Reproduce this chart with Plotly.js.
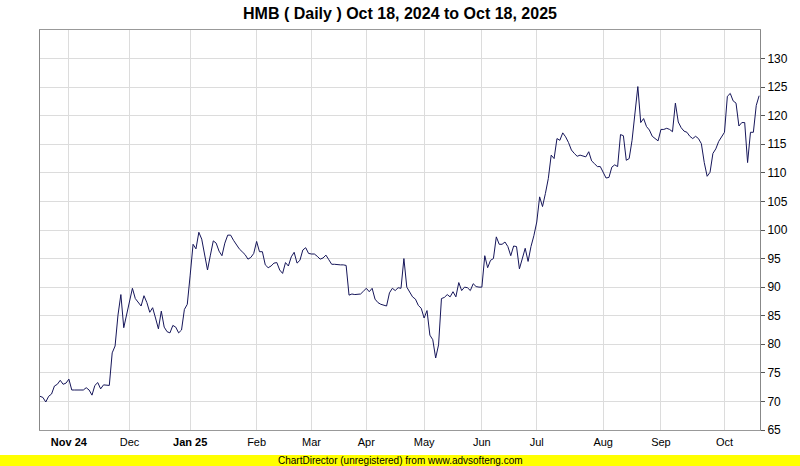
<!DOCTYPE html>
<html>
<head>
<meta charset="utf-8">
<script src="https://cdn.plot.ly/plotly-3.0.1.min.js"></script>
<style>
  html, body { margin: 0; padding: 0; background: #ffffff; }
  #chart { width: 800px; height: 466px; }
</style>
</head>
<body>
<div id="chart"></div>
<script>
// Daily closing prices (trading days)
var closeOctToJan = [70.9,70.7,69.9,70.9,71.3,72.7,73.0,73.7,73.0,73.2,73.9,72.0,72.0,72.0,72.0,72.0,72.4,72.0,71.1,72.8,73.3,72.2,72.9,72.9,72.8,78.5,79.7,85.1,88.7,82.9,85.4,87.7,89.8,88.0,87.3,86.7,88.5,87.3,85.6,86.4,84.6,82.7,85.8,83.0,82.2,82.0,83.3,83.0,82.0,82.5,86.1,87.0,92.1,97.5,96.7,99.6,98.4,95.9,93.0,95.6,98.1,97.7,96.3];
var closeJanToApr = [95.5,97.7,99.1,99.1,98.2,97.4,96.7,96.2,95.7,94.9,95.2,95.9,98.0,96.2,96.2,93.9,93.4,93.7,94.2,94.3,93.0,92.4,94.3,93.7,95.3,96.1,94.2,94.7,96.5,96.9,95.9,95.8,95.8,95.4,94.9,95.1,95.6,94.8,94.0,94.0,93.9,93.9,93.9,93.8,88.6,88.8,88.7,88.8,88.8,89.3,89.8,89.2,89.8,87.9,87.3,87.0,86.8,86.7,89.0,89.8,89.4,89.9];
var closeAprToJul = [89.8,95.0,90.0,89.2,88.3,87.9,86.8,86.3,84.6,85.9,81.6,80.8,77.6,79.9,88.0,88.2,88.7,88.3,89.2,88.3,90.8,89.4,90.0,89.9,89.4,90.6,90.1,90.0,90.0,95.5,93.4,94.7,95.0,98.8,97.5,97.5,97.9,97.1,95.5,97.2,97.1,93.2,94.9,96.8,94.5,97.1,99.0,101.4,105.8,104.1,106.4,109.0,113.1,112.5,116.0,115.7,117.0,116.3,115.3,114.0,113.4];
var closeJulToOct = [112.9,113.1,113.0,112.8,113.7,112.1,111.6,111.1,111.1,110.2,109.1,109.2,111.0,111.4,111.1,116.7,116.5,112.2,112.5,115.7,120.1,125.1,118.8,119.5,118.1,117.5,116.4,116.0,115.6,117.6,117.6,117.8,117.6,117.2,122.2,118.9,117.9,117.3,117.1,116.4,116.0,116.4,116.0,115.1,111.8,109.4,110.1,113.4,114.2,115.5,116.3,117.1,123.4,123.9,122.6,122.2,118.2,118.8,118.8,111.8,117.1,117.1,121.8,123.5];

// Month labels and the trading-day index where each month starts
var monthLabels = ["<b>Nov 24</b>","Dec","<b>Jan 25</b>","Feb","Mar","Apr","May","Jun","Jul","Aug","Sep","Oct"];
var monthStartIdx = [10,31,52,75,94,113,133,153,172,195,215,237];

var yTicks = [65,70,75,80,85,90,95,100,105,110,115,120,125,130];

var closes = closeOctToJan.concat(closeJanToApr, closeAprToJul, closeJulToOct);
var dayIdx = closes.map(function(_, i){ return i; });

var FONT = '"Liberation Sans Narrow", "Liberation Sans", Arial, sans-serif';

var trace = {
  x: dayIdx,
  y: closes,
  type: 'scatter',
  mode: 'lines',
  line: { color: '#16165a', width: 1 },
  hoverinfo: 'skip'
};

var layout = {
  width: 800,
  height: 466,
  margin: { l: 40, r: 40, t: 30, b: 36, pad: 0 },
  paper_bgcolor: '#ffffff',
  plot_bgcolor: '#ffffff',
  showlegend: false,
  title: {
    text: '<b>HMB ( Daily ) Oct 18, 2024 to Oct 18, 2025</b>',
    font: { family: FONT, size: 16, color: '#000000' },
    x: 0.5, xanchor: 'center',
    y: 1 - 13/466, yanchor: 'middle', yref: 'container'
  },
  xaxis: {
    range: [0, 249.3],
    tickvals: monthStartIdx,
    ticktext: monthLabels,
    showgrid: true,
    gridcolor: '#dcdcdc',
    gridwidth: 1,
    zeroline: false,
    showline: true,
    linecolor: '#999999',
    linewidth: 1,
    mirror: true,
    ticks: 'outside',
    ticklen: 2,
    tickcolor: '#ffffff',
    tickfont: { family: FONT, size: 11, color: '#000000' },
    automargin: false,
    fixedrange: true
  },
  yaxis: {
    side: 'right',
    range: [65, 135],
    tickvals: yTicks,
    showgrid: true,
    gridcolor: '#dcdcdc',
    gridwidth: 1,
    zeroline: false,
    showline: true,
    linecolor: '#888888',
    linewidth: 1,
    mirror: true,
    ticks: 'outside',
    ticklen: 4,
    tickcolor: '#555555',
    tickfont: { family: FONT, size: 12, color: '#000000' },
    automargin: false,
    fixedrange: true
  },
  shapes: [
    {
      type: 'rect', xref: 'paper', yref: 'paper',
      x0: -40/720, x1: 760/720,
      y0: -36/400, y1: -25/400,
      fillcolor: '#ffff00', line: { width: 0 }, layer: 'below'
    }
  ],
  annotations: [
    {
      text: 'ChartDirector (unregistered) from www.advsofteng.com',
      xref: 'paper', yref: 'paper',
      x: 0.5, y: -30.5/400, xanchor: 'center', yanchor: 'middle',
      showarrow: false,
      font: { family: FONT, size: 10, color: '#000000' }
    }
  ]
};

Plotly.newPlot('chart', [trace], layout, { displayModeBar: false, staticPlot: true });
</script>
</body>
</html>
